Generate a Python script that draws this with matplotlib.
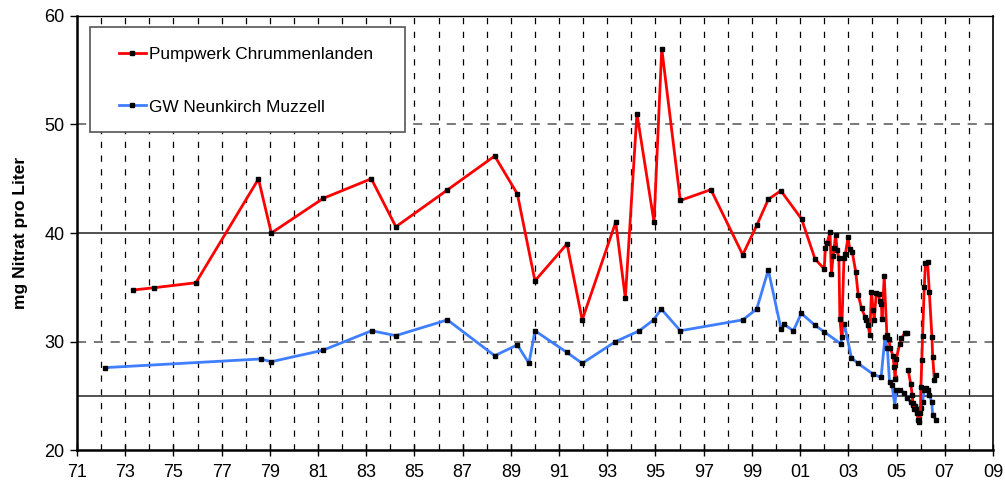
import numpy as np
import matplotlib.pyplot as plt
from matplotlib.patches import Rectangle
from matplotlib.ticker import FixedLocator, FuncFormatter

plt.rcParams['font.family'] = ['Liberation Sans', 'DejaVu Sans']

# --- Data (decimal years, mg nitrate per litre)
red_label = 'Pumpwerk Chrummenlanden'
red_year = [1973.32, 1974.19, 1975.93, 1978.53, 1979.06, 1981.22, 1983.21, 1984.23, 1986.36, 1988.33,
            1989.27, 1990.00, 1991.33, 1991.96, 1993.35, 1993.75, 1994.23, 1994.94, 1995.26, 1996.03,
            1997.30, 1998.62, 1999.20, 1999.68, 2000.20, 2001.06, 2001.62, 2002.00, 2002.05, 2002.12,
            2002.24, 2002.30, 2002.37, 2002.41, 2002.47, 2002.54, 2002.61, 2002.65, 2002.72, 2002.82,
            2002.88, 2002.99, 2003.06, 2003.16, 2003.31, 2003.41, 2003.55, 2003.69, 2003.75, 2003.82,
            2003.89, 2003.96, 2004.03, 2004.07, 2004.16, 2004.26, 2004.30, 2004.37, 2004.40, 2004.49,
            2004.60, 2004.68, 2004.74, 2004.85, 2004.90, 2004.94, 2004.99, 2005.13, 2005.20, 2005.34,
            2005.45, 2005.46, 2005.48, 2005.59, 2005.65, 2005.68, 2005.74, 2005.85, 2005.90, 2005.95,
            2005.99, 2006.01, 2006.05, 2006.08, 2006.15, 2006.20, 2006.29, 2006.36, 2006.47, 2006.50,
            2006.57, 2006.64]
red_val = [34.75, 34.96, 35.42, 44.98, 40.0, 43.2, 45.0, 40.58, 43.96, 47.1,
           43.6, 35.6, 39.0, 32.0, 41.0, 34.0, 51.0, 41.0, 57.0, 43.0,
           44.0, 38.0, 40.7, 43.1, 43.9, 41.3, 37.6, 36.7, 38.65, 39.1,
           40.1, 36.2, 37.9, 38.6, 39.8, 38.4, 37.7, 32.1, 30.45, 37.7,
           38.1, 39.6, 38.5, 38.3, 36.4, 34.3, 33.05, 32.3, 32.0, 31.5,
           30.6, 34.6, 32.9, 32.0, 34.45, 34.4, 33.7, 33.5, 32.1, 36.0,
           30.6, 30.2, 29.4, 28.7, 27.7, 26.6, 28.4, 29.8, 30.3, 30.75,
           30.8, np.nan, 27.4, 26.1, 25.1, 24.3, 23.8, 23.4, 22.8, 22.6,
           23.4, 25.8, 28.3, 30.5, 35.0, 37.2, 37.3, 34.6, 30.4, 28.6,
           26.5, 26.9]

blue_label = 'GW Neunkirch Muzzell'
blue_year = [1972.15, 1978.62, 1979.06, 1981.20, 1983.22, 1984.23, 1986.37, 1988.33, 1989.27, 1989.75,
             1990.00, 1991.33, 1991.96, 1993.34, 1994.33, 1994.92, 1995.24, 1996.03, 1998.62, 1999.20,
             1999.68, 2000.21, 2000.33, 2000.72, 2001.05, 2001.62, 2002.00, 2002.69, 2002.83, 2003.13,
             2003.40, 2004.03, 2004.36, 2004.52, 2004.62, 2004.71, 2004.81, 2004.93, 2004.99, 2005.15,
             2005.31, 2005.45, 2005.59, 2005.67, 2005.77, 2005.85, 2005.95, 2006.01, 2006.08, 2006.15,
             2006.22, 2006.32, 2006.36, 2006.46, 2006.50, 2006.64]
blue_val = [27.6, 28.4, 28.15, 29.2, 31.0, 30.55, 32.0, 28.7, 29.7, 28.0,
            31.0, 29.0, 28.0, 30.0, 31.0, 32.0, 33.0, 31.0, 32.0, 33.0,
            36.6, 31.15, 31.6, 31.0, 32.6, 31.5, 30.9, 29.8, 31.65, 28.5,
            28.0, 27.0, 26.7, 30.4, 29.4, 26.3, 26.0, 24.1, 25.55, 25.55,
            25.3, 24.8, 24.45, 24.15, 24.05, 23.8, 23.4, 23.85, 24.45, 25.55,
            25.7, 25.55, 25.1, 24.45, 23.25, 22.8]

solid_levels = [25, 40]
dashed_levels = [30, 50]
year_ticks = list(range(1971, 2010, 2))
year_grid = list(range(1972, 2009))

# --- Figure
fig, ax = plt.subplots(figsize=(10.05, 4.83), dpi=100)
fig.subplots_adjust(left=0.0766, right=0.988, top=0.967, bottom=0.068)

ax.set_xlim(1971, 2009)
ax.set_ylim(20, 60)

# grid: dashed every year, horizontal reference lines
for yr in year_grid:
    ax.axvline(yr, color='black', lw=0.9, ls=(0, (5, 6)), zorder=1)
for lv in dashed_levels:
    ax.axhline(lv, color='#555555', lw=1.1, ls=(0, (6, 5)), zorder=1)
for lv in solid_levels:
    ax.axhline(lv, color='#333333', lw=1.2, zorder=1)

ax.plot(red_year, red_val, color='#ff0000', lw=2.0, marker='s', ms=2.8,
        mfc='black', mec='black', label=red_label, zorder=3)
ax.plot(blue_year, blue_val, color='#3f7fff', lw=2.0, marker='s', ms=2.8,
        mfc='black', mec='black', label=blue_label, zorder=2)

ax.xaxis.set_major_locator(FixedLocator(year_ticks))
ax.xaxis.set_major_formatter(FuncFormatter(lambda v, p: '{:02d}'.format(int(round(v)) % 100)))
ax.yaxis.set_major_locator(FixedLocator([20, 30, 40, 50, 60]))
ax.tick_params(axis='x', direction='inout', length=8, width=1, labelsize=13, pad=6)
ax.tick_params(axis='y', direction='out', length=5, width=1, labelsize=13, pad=4)

ax.spines['left'].set_linewidth(1.8)
ax.spines['bottom'].set_linewidth(1.8)
ax.spines['top'].set_linewidth(1.0)
ax.spines['right'].set_linewidth(1.2)

ax.set_ylabel('mg Nitrat pro Liter', fontsize=12.5, fontweight='bold', labelpad=12)

# --- Legend box (frame drawn separately: wide side margins, narrow top/bottom)
box = Rectangle((90 / 1005, 1 - 132 / 483), 315 / 1005, 105 / 483, transform=fig.transFigure,
                facecolor='white', edgecolor='#555555', lw=1.2, zorder=4, clip_on=False)
ax.add_patch(box)
leg = ax.legend(loc='upper left', bbox_to_anchor=(119 / 1005, 1 - 46.5 / 483), bbox_transform=fig.transFigure,
                fontsize=12.4, frameon=False, borderpad=0, labelspacing=2.2,
                handlelength=1.55, handletextpad=0.2, borderaxespad=0)
leg.set_zorder(5)

fig.savefig('out.png', dpi=100)
